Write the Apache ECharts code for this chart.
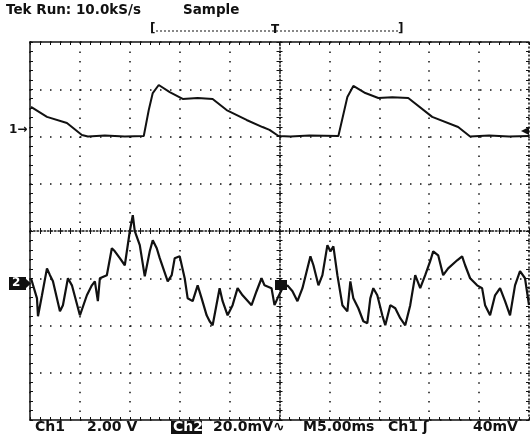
<!DOCTYPE html>
<html>
<head>
<meta charset="utf-8">
<title>Tek scope capture</title>
<script src="https://cdn.jsdelivr.net/npm/echarts@6/dist/echarts.min.js"></script>
<style>
  html, body { margin: 0; padding: 0; background: #fff; }
  #scope { width: 531px; height: 434px; }
</style>
</head>
<body>
<div id="scope"></div>
<script>
// time axis: 5 ms/div, 10 divisions
var timeTicks = [0, 5, 10, 15, 20, 25, 30, 35, 40, 45, 50];

// channel 1, 2.00 V/div (ground 2 div above centre)
var ch1Time = [0.1, 1.7, 3.7, 5.2, 5.8, 7.5, 9.5, 11.4, 11.9, 12.3, 12.9, 14.0, 15.3, 16.8, 18.3, 19.7, 21.7, 23.3, 24.0, 24.9, 26.1, 28.0, 30.9, 31.8, 32.4, 33.6, 34.9, 36.3, 37.9, 40.3, 42.9, 44.1, 46.0, 48.0, 50.0];
var ch1Volts = [1.25, 0.83, 0.57, 0.06, 0.0, 0.04, 0.0, 0.02, 1.12, 1.84, 2.18, 1.88, 1.59, 1.63, 1.59, 1.12, 0.70, 0.40, 0.28, 0.02, 0.0, 0.04, 0.02, 1.67, 2.14, 1.84, 1.63, 1.66, 1.63, 0.83, 0.40, 0.0, 0.04, 0.0, 0.02];

// channel 2, 20.0 mV/div (ground 1 div below centre)
var ch2Time = [0.1, 0.7, 0.8, 1.2, 1.7, 2.0, 2.3, 3.0, 3.3, 3.8, 4.2, 5.0, 5.7, 6.2, 6.5, 6.8, 7.0, 7.7, 8.2, 8.5, 9.0, 9.5, 10.0, 10.3, 10.5, 11.0, 11.5, 12.0, 12.3, 12.7, 13.0, 13.8, 14.2, 14.5, 15.0, 15.5, 15.8, 16.3, 16.8, 17.2, 17.7, 18.0, 18.3, 19.0, 19.3, 19.8, 20.3, 20.8, 21.3, 22.2, 22.7, 23.2, 23.5, 24.2, 24.5, 24.8, 25.3, 25.8, 26.3, 26.8, 27.3, 27.8, 28.1, 28.4, 28.9, 29.3, 29.8, 30.1, 30.4, 30.8, 31.3, 31.8, 32.1, 32.4, 32.9, 33.4, 33.8, 34.1, 34.4, 34.8, 35.3, 35.6, 36.1, 36.6, 37.1, 37.6, 38.1, 38.6, 39.1, 39.6, 40.1, 40.4, 40.9, 41.4, 41.9, 42.8, 43.3, 43.6, 44.1, 44.8, 45.3, 45.6, 46.1, 46.6, 47.1, 47.6, 48.1, 48.6, 49.1, 49.6, 50.0];
var ch2MilliVolts = [0, -8.5, -16.1, -7.2, 4.2, 1.3, -1.3, -14.0, -11.4, 0, -3.0, -15.7, -7.2, -3.0, -1.3, -9.7, 0, 1.3, 12.7, 11.4, 8.5, 5.5, 19.9, 26.7, 19.9, 14.0, 0.8, 11.4, 16.1, 12.7, 8.5, -1.3, 1.3, 8.5, 9.3, 0, -8.5, -9.7, -3.0, -8.5, -15.7, -18.2, -19.9, -4.2, -9.7, -15.7, -11.4, -4.2, -7.2, -11.4, -5.5, 0, -3.0, -4.2, -11.4, -8.5, -4.2, -3.0, -5.5, -9.7, -4.2, 4.2, 9.3, 5.5, -3.0, 1.3, 14.0, 11.4, 13.5, 1.3, -11.4, -14.0, -1.3, -8.5, -12.7, -18.2, -19.0, -8.5, -4.2, -7.2, -15.7, -19.9, -11.4, -12.7, -16.9, -19.9, -11.4, 1.3, -4.2, 1.3, 7.2, 11.4, 9.7, 1.3, 4.2, 7.6, 9.3, 5.5, 0, -3.0, -4.2, -11.4, -15.7, -7.2, -4.2, -9.7, -15.7, -3.0, 3.0, 0, -11.4];

function pairs(xs, ys) {
  var out = [];
  for (var i = 0; i < xs.length; i++) out.push([xs[i], ys[i]]);
  return out;
}

var chart = echarts.init(document.getElementById('scope'), null, { renderer: 'canvas' });

var ink = '#111';
var boldFont = '"DejaVu Sans", sans-serif';

function xAxisBase(pos, offset, showLine, lineType) {
  return {
    type: 'value', min: 0, max: 50, interval: 5, position: pos, offset: offset,
    axisLine: { show: showLine, onZero: false, lineStyle: { color: ink, width: 1.5, type: lineType || 'solid' } },
    axisTick: { show: true, inside: true, length: 3, lineStyle: { color: ink } },
    minorTick: { show: true, splitNumber: 5, length: 3, lineStyle: { color: ink } },
    axisLabel: { show: false },
    splitLine: { show: false }
  };
}
function yAxisBase(pos, offset, min, max, interval, showLine, lineType) {
  return {
    type: 'value', min: min, max: max, interval: interval, position: pos, offset: offset,
    axisLine: { show: showLine, onZero: false, lineStyle: { color: ink, width: 1.5, type: lineType || 'solid' } },
    axisTick: { show: true, inside: true, length: 3, lineStyle: { color: ink } },
    minorTick: { show: true, splitNumber: 5, length: 3, lineStyle: { color: ink } },
    axisLabel: { show: false },
    splitLine: { show: false }
  };
}

var bottomX = xAxisBase('bottom', 0, true);
bottomX.splitLine = { show: true, lineStyle: { color: ink, width: 1.5, type: [1.5, 7.95] } };
var leftY = yAxisBase('left', 0, -12, 4, 2, true);
leftY.splitLine = { show: true, lineStyle: { color: ink, width: 1.5, type: [1.5, 8.5] } };

chart.setOption({
  animation: false,
  backgroundColor: '#fff',
  grid: { left: 30, top: 42, width: 499, height: 378, containLabel: false },
  xAxis: [
    bottomX,
    xAxisBase('top', 0, true),
    xAxisBase('bottom', -189, true, [1.5, 2]),
    xAxisBase('top', -189, false)
  ],
  yAxis: [
    leftY,
    yAxisBase('right', 0, -60, 100, 20, true, [1, 3]),
    yAxisBase('left', -249.5, -12, 4, 2, true, [1.5, 2]),
    yAxisBase('right', -249.5, -60, 100, 20, false)
  ],
  series: [
    {
      name: 'Ch1', type: 'line', xAxisIndex: 0, yAxisIndex: 0,
      data: pairs(ch1Time, ch1Volts),
      showSymbol: false, silent: true,
      lineStyle: { color: ink, width: 2 }
    },
    {
      name: 'Ch2', type: 'line', xAxisIndex: 0, yAxisIndex: 1,
      data: pairs(ch2Time, ch2MilliVolts),
      showSymbol: false, silent: true,
      lineStyle: { color: ink, width: 2.2 }
    }
  ],
  graphic: [
    // header
    { type: 'text', left: 6, top: 3, style: { text: 'Tek Run: 10.0kS/s', font: 'bold 13.5px ' + boldFont, fill: ink } },
    { type: 'text', left: 183, top: 3, style: { text: 'Sample', font: 'bold 13.5px ' + boldFont, fill: ink } },
    // record window bracket
    { type: 'text', left: 150, top: 23, style: { text: '[', font: 'bold 12px ' + boldFont, fill: ink } },
    { type: 'text', left: 398, top: 23, style: { text: ']', font: 'bold 12px ' + boldFont, fill: ink } },
    { type: 'line', shape: { x1: 156, y1: 31, x2: 400, y2: 31 }, style: { stroke: ink, lineWidth: 1, lineDash: [2, 2] } },
    { type: 'text', left: 271, top: 24, style: { text: 'T', font: 'bold 12px ' + boldFont, fill: ink } },
    // channel markers
    { type: 'text', left: 9, top: 124, style: { text: '1\u2192', font: 'bold 12px ' + boldFont, fill: ink } },
    { type: 'polygon', shape: { points: [[529, 127], [521, 131], [529, 135]] }, style: { fill: ink } },
    { type: 'rect', shape: { x: 9, y: 277, width: 17, height: 13 }, style: { fill: ink } },
    { type: 'text', left: 12, top: 277, style: { text: '2', font: 'bold 12px ' + boldFont, fill: '#fff' } },
    { type: 'polygon', shape: { points: [[26, 279], [31, 283.5], [26, 288]] }, style: { fill: ink } },
    { type: 'rect', shape: { x: 275, y: 280, width: 12, height: 10 }, style: { fill: ink } },
    // status line
    { type: 'text', left: 35, top: 420, style: { text: 'Ch1', font: 'bold 14px ' + boldFont, fill: ink } },
    { type: 'text', left: 87, top: 420, style: { text: '2.00 V', font: 'bold 14px ' + boldFont, fill: ink } },
    { type: 'rect', shape: { x: 171, y: 421, width: 31, height: 13 }, style: { fill: ink } },
    { type: 'text', left: 173, top: 420, style: { text: 'Ch2', font: 'bold 14px ' + boldFont, fill: '#fff' } },
    { type: 'text', left: 213, top: 420, style: { text: '20.0mV\u223F', font: 'bold 14px ' + boldFont, fill: ink } },
    { type: 'text', left: 303, top: 420, style: { text: 'M5.00ms', font: 'bold 14px ' + boldFont, fill: ink } },
    { type: 'text', left: 388, top: 420, style: { text: 'Ch1 \u0283', font: 'bold 14px ' + boldFont, fill: ink } },
    { type: 'text', left: 473, top: 420, style: { text: '40mV', font: 'bold 14px ' + boldFont, fill: ink } }
  ]
});
</script>
</body>
</html>
